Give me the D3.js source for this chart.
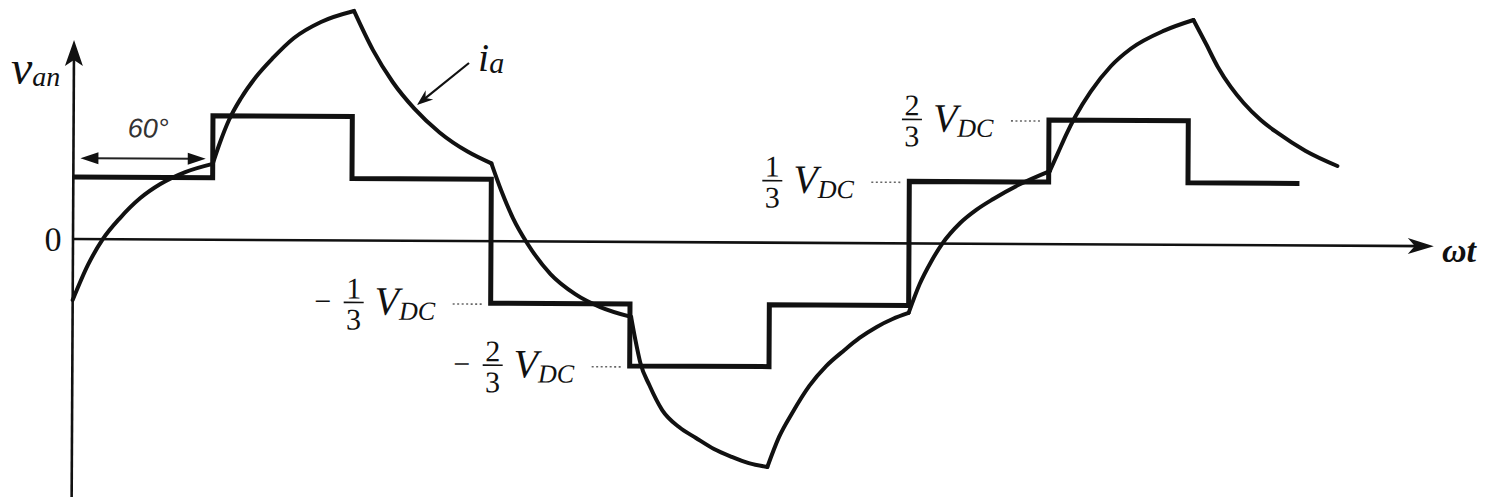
<!DOCTYPE html>
<html>
<head>
<meta charset="utf-8">
<script src="https://cdn.jsdelivr.net/npm/d3@7"></script>
<style>
  html, body { margin: 0; padding: 0; background: #fff; }
  svg { display: block; }
</style>
</head>
<body>
<svg id="chart" width="1495" height="501"></svg>
<script>
// Six-step phase voltage v_an, in units of V_DC, one level per 60° interval
const stepAngles = [0, 60, 120, 180, 240, 300, 360, 420, 480, 528];
const stepLevels = [1/3, 2/3, 1/3, -1/3, -2/3, -1/3, 1/3, 2/3, 1/3];

// Load current i_a, one piece per switching interval: [ωt (deg), value]
const currentSegments = [
  [[0, -0.328], [6.5, -0.139], [12.9, 0.001], [20.2, 0.114], [28.9, 0.222], [37.5, 0.298], [48.2, 0.363], [60, 0.408]],
  [[60, 0.408], [63.0, 0.520], [66.9, 0.644], [72.1, 0.763], [78.4, 0.876], [85.7, 0.979], [94.7, 1.087], [106.3, 1.174], [120.5, 1.234]],
  [[120.5, 1.234], [128.7, 1.025], [137.3, 0.853], [146.8, 0.709], [157.6, 0.583], [169.7, 0.481], [180, 0.418]],
  [[180, 0.418], [184.2, 0.275], [189.4, 0.125], [195.8, -0.014], [205.7, -0.175], [216.4, -0.282], [227.2, -0.351], [240.5, -0.403]],
  [[240.5, -0.403], [242.4, -0.527], [244.6, -0.651], [248.5, -0.769], [254.1, -0.903], [261.4, -0.994], [268.7, -1.052], [276.5, -1.111], [284.2, -1.153], [291.5, -1.186], [299.5, -1.206]],
  [[299.5, -1.206], [304.5, -1.044], [310.1, -0.915], [317.4, -0.769], [324.7, -0.661], [332.5, -0.575], [338.9, -0.510], [346.3, -0.450], [353.1, -0.407], [360, -0.374]],
  [[360, -0.374], [364.7, -0.218], [369.5, -0.099], [374.2, -0.003], [382.0, 0.111], [388.9, 0.182], [396.2, 0.241], [407.8, 0.322], [420.5, 0.393]],
  [[420.5, 0.393], [424.0, 0.492], [427.5, 0.591], [431.4, 0.688], [437.9, 0.821], [446.5, 0.958], [455.2, 1.054], [469.4, 1.151], [482, 1.209]],
  [[482, 1.209], [487.5, 1.080], [492.6, 0.957], [498.2, 0.850], [503.8, 0.764], [511.2, 0.673], [518.5, 0.604], [530.6, 0.508], [544.3, 0.428]]
];

// Reference levels marked on the vertical axis
const levelLabels = [
  { level: 2/3,  sign: "",  num: "2", at: 420 },
  { level: 1/3,  sign: "",  num: "1", at: 360 },
  { level: -1/3, sign: "−", num: "1", at: 180 },
  { level: -2/3, sign: "−", num: "2", at: 240 }
];

const axisAngleEnd = 586;
const axisValueTop = 1.07;
const axisValueBottom = -1.387;

const SERIF = "'Liberation Serif', 'DejaVu Serif', 'Times New Roman', serif";
const SANS = "'Liberation Sans', Arial, sans-serif";

const svg = d3.select("#chart");
const x = d3.scaleLinear().domain([0, 360]).range([73, 909]);
const y = d3.scaleLinear().domain([0, 1]).range([239, 53]);

// the whole plot sits on a very slight tilt
const plot = svg.append("g").attr("transform", "rotate(0.3, 73, 239)");

// axes
plot.append("line")
  .attr("x1", x(0)).attr("x2", x(axisAngleEnd) - 8)
  .attr("y1", y(0)).attr("y2", y(0))
  .attr("stroke", "#111").attr("stroke-width", 2.6);
plot.append("line")
  .attr("x1", x(0)).attr("x2", x(0))
  .attr("y1", y(axisValueBottom)).attr("y2", y(axisValueTop) + 10)
  .attr("stroke", "#111").attr("stroke-width", 2.6);

// arrowheads on the axes
const xe = x(axisAngleEnd), y0 = y(0);
plot.append("path")
  .attr("d", `M${xe},${y0} L${xe - 26},${y0 - 8} L${xe - 19},${y0} L${xe - 26},${y0 + 8} Z`)
  .attr("fill", "#111");
const ye = y(axisValueTop), x0 = x(0);
plot.append("path")
  .attr("d", `M${x0},${ye} L${x0 - 9},${ye + 26} L${x0},${ye + 20} L${x0 + 9},${ye + 26} Z`)
  .attr("fill", "#111");

// stepped phase voltage
const stepPoints = stepAngles.map((a, i) => [a, stepLevels[Math.min(i, stepLevels.length - 1)]]);
plot.append("path")
  .datum(stepPoints)
  .attr("d", d3.line().x(d => x(d[0])).y(d => y(d[1])).curve(d3.curveStepAfter))
  .attr("fill", "none").attr("stroke", "#111").attr("stroke-width", 5)
  .attr("stroke-linejoin", "miter");

// load current, drawn piece by piece so the switching corners stay sharp
const currentLine = d3.line().x(d => x(d[0])).y(d => y(d[1])).curve(d3.curveMonotoneX);
plot.selectAll("path.current")
  .data(currentSegments)
  .join("path")
  .attr("class", "current")
  .attr("d", currentLine)
  .attr("fill", "none").attr("stroke", "#111").attr("stroke-width", 4)
  .attr("stroke-linecap", "round");

// level labels with dotted leaders
levelLabels.forEach(l => {
  const xs = x(l.at), ly = y(l.level);
  const g = plot.append("g").attr("transform", `translate(${xs - 52},${ly})`);
  g.append("line")
    .attr("x1", 14).attr("x2", 44).attr("y1", 1).attr("y2", 1)
    .attr("stroke", "#666").attr("stroke-width", 1.6).attr("stroke-dasharray", "2,2.5");
  const vt = g.append("text").attr("x", -64).attr("y", 12)
    .attr("font-family", SERIF).attr("font-style", "italic").attr("fill", "#111");
  vt.append("tspan").attr("font-size", 40).text("V");
  vt.append("tspan").attr("font-size", 26).attr("dy", 5).text("DC");
  g.append("text").attr("x", -85).attr("y", -4)
    .attr("text-anchor", "middle").attr("font-family", SERIF)
    .attr("font-size", 30).attr("fill", "#111")
    .text(l.num);
  g.append("line")
    .attr("x1", -95).attr("x2", -75).attr("y1", 0).attr("y2", 0)
    .attr("stroke", "#111").attr("stroke-width", 1.6);
  g.append("text").attr("x", -85).attr("y", 27)
    .attr("text-anchor", "middle").attr("font-family", SERIF)
    .attr("font-size", 30).attr("fill", "#111")
    .text("3");
  if (l.sign) {
    g.append("text").attr("x", -116).attr("y", 9)
      .attr("text-anchor", "middle").attr("font-family", SERIF)
      .attr("font-size", 30).attr("fill", "#111")
      .text(l.sign);
  }
});

// 60° interval marker
const my = y(0.435);
const a0 = x(0) + 7, a1 = x(60) - 7;
plot.append("line")
  .attr("x1", a0 + 10).attr("x2", a1 - 10).attr("y1", my).attr("y2", my)
  .attr("stroke", "#222").attr("stroke-width", 2);
plot.append("path")
  .attr("d", `M${a0},${my} L${a0 + 18},${my - 6} L${a0 + 18},${my + 6} Z M${a1},${my} L${a1 - 18},${my - 6} L${a1 - 18},${my + 6} Z`)
  .attr("fill", "#111");
plot.append("text")
  .attr("x", (a0 + a1) / 2 + 5).attr("y", my - 21)
  .attr("text-anchor", "middle")
  .attr("font-family", SANS)
  .attr("font-style", "italic").attr("font-size", 27).attr("fill", "#333")
  .text("60°");

// origin label
plot.append("text")
  .attr("x", 53).attr("y", y(0) + 12)
  .attr("text-anchor", "middle").attr("font-family", SERIF)
  .attr("font-size", 34).attr("fill", "#111")
  .text("0");

// axis titles
const vt = svg.append("text").attr("x", 11).attr("y", 84)
  .attr("font-family", SERIF).attr("font-style", "italic").attr("fill", "#111");
vt.append("tspan").attr("font-size", 48).text("v");
vt.append("tspan").attr("font-size", 28).attr("dy", 2).text("an");

svg.append("text")
  .attr("x", 1442).attr("y", 262)
  .attr("font-family", SERIF)
  .attr("font-style", "italic").attr("font-weight", "bold").attr("font-size", 34).attr("fill", "#111")
  .text("ωt");

// current label with pointer
const it = svg.append("text").attr("x", 478).attr("y", 71)
  .attr("font-family", SERIF).attr("font-style", "italic").attr("fill", "#111");
it.append("tspan").attr("font-size", 40).text("i");
it.append("tspan").attr("font-size", 30).attr("dy", 2).text("a");
const tip = [417, 105], tail = [469, 63];
const ang = Math.atan2(tail[1] - tip[1], tail[0] - tip[0]);
const hx = Math.cos(ang), hy = Math.sin(ang);
svg.append("line")
  .attr("x1", tail[0]).attr("y1", tail[1])
  .attr("x2", tip[0] + hx * 10).attr("y2", tip[1] + hy * 10)
  .attr("stroke", "#111").attr("stroke-width", 2.2);
svg.append("path")
  .attr("d", `M${tip[0]},${tip[1]}
    L${tip[0] + hx * 16 - hy * 6},${tip[1] + hy * 16 + hx * 6}
    L${tip[0] + hx * 11},${tip[1] + hy * 11}
    L${tip[0] + hx * 16 + hy * 6},${tip[1] + hy * 16 - hx * 6} Z`)
  .attr("fill", "#111");
</script>
</body>
</html>
